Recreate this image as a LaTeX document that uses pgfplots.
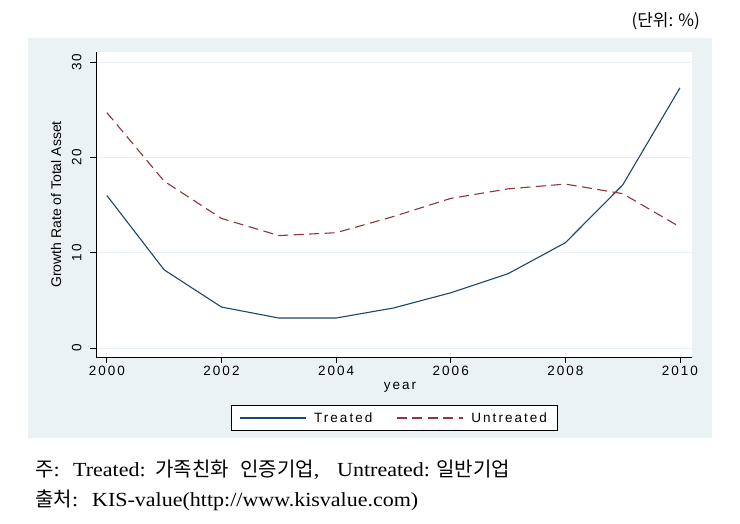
\documentclass[border=0pt]{standalone}
\usepackage{pgfplots}
\pgfplotsset{compat=1.18}
\usepackage{fontspec}
\setmainfont{Liberation Sans}
\newfontfamily\statafont[LetterSpace=15]{Liberation Sans}
\newfontfamily\krsans{Noto Sans CJK KR}
\newfontfamily\enserif[FakeStretch=1.1]{Liberation Serif}
\definecolor{statabg}{RGB}{234,242,243}
\definecolor{statanavy}{RGB}{26,71,111}
\definecolor{statamaroon}{RGB}{144,53,59}

\begin{document}
\begin{tikzpicture}
\useasboundingbox (0,0) rectangle (740pt,-524pt);
\fill[statabg] (28pt,-38pt) rectangle (712pt,-438pt);
\fill[white] (96pt,-52pt) rectangle (692pt,-357pt);
\begin{axis}[
  at={(96pt,-357pt)}, anchor=south west,
  width=596pt, height=305pt, scale only axis,
  xmin=1999.81, xmax=2010.21, ymin=-0.94, ymax=31.06,
  axis x line*=bottom, axis y line*=left,
  axis line style={-, line width=0.8pt, black},
  xtick={2000,2002,2004,2006,2008,2010},
  ytick={0,10,20,30},
  tick align=outside, major tick length=6pt,
  tick style={line width=0.8pt, black},
  ymajorgrids, grid style={statabg, line width=0.9pt},
  /pgf/number format/assume math mode=true,
  /pgf/number format/1000 sep={},
  ticklabel style={font=\statafont\fontsize{13.5}{16}\selectfont},
  yticklabel style={rotate=90, anchor=south},
  yticklabel shift={5pt},
  xlabel={year},
  xlabel style={font=\statafont\fontsize{13.5}{16}\selectfont, at={(axis description cs:0.51,-0.1)}, anchor=center},
  ylabel={Growth Rate of Total Asset},
  ylabel style={font=\fontsize{14}{16}\selectfont, at={(axis description cs:-0.0671,0.5)}, anchor=center},
  legend columns=2,
  legend cell align=left,
  legend image code/.code={\draw[#1] (0pt,0pt) -- (66pt,0pt); \path (72pt,0pt);},
  legend style={at={(axis description cs:0.5,-0.2)}, anchor=center, draw=black, fill=white,
    line width=0.6pt, font=\statafont\fontsize{13.5}{16}\selectfont,
    inner xsep=8pt, inner ysep=5pt,
    /tikz/every even column/.append style={column sep=22pt}},
]
\addplot[statanavy, line width=1.1pt, line join=round] coordinates {
(2000,16.0) (2001,8.2) (2002,4.3) (2003,3.15) (2004,3.15) (2005,4.2)
(2006,5.8) (2007,7.8) (2008,11.05) (2009,17.1) (2010,27.3)};
\addlegendentry{Treated}
\addplot[statamaroon, line width=1.1pt, line join=round, dash pattern=on 10pt off 5.5pt] coordinates {
(2000,24.7) (2001,17.5) (2002,13.6) (2003,11.8) (2004,12.1) (2005,13.8)
(2006,15.7) (2007,16.7) (2008,17.2) (2009,16.2) (2010,12.7)};
\addlegendentry{Untreated\hspace{6pt}}
\end{axis}
\begin{scope}[every node/.style={anchor=base west, inner sep=0}]
\node[font=\fontsize{20}{22}\selectfont\krsans] at (35pt,-476pt) {주\enserif\fontsize{20}{22}\selectfont:};
\node[font=\fontsize{20}{22}\selectfont\enserif] at (73pt,-476pt) {Treated:};
\node[font=\fontsize{20}{22}\selectfont\krsans] at (155pt,-476pt) {가족친화};
\node[font=\fontsize{20}{22}\selectfont\krsans] at (240pt,-476pt) {인증기업\enserif\fontsize{20}{22}\selectfont,};
\node[font=\fontsize{20}{22}\selectfont\enserif] at (337pt,-476pt) {Untreated:};
\node[font=\fontsize{20}{22}\selectfont\krsans] at (436pt,-476pt) {일반기업};
\node[font=\fontsize{20}{22}\selectfont\krsans] at (35pt,-506pt) {출처\enserif\fontsize{20}{22}\selectfont:};
\node[font=\fontsize{20}{22}\selectfont\enserif] at (92pt,-506pt) {KIS-value(http://www.kisvalue.com)};
\end{scope}
\node[anchor=east, inner sep=0] at (700pt,-21pt) {\fontsize{17}{20}\selectfont\krsans (단위: \%)};
\end{tikzpicture}
\end{document}
